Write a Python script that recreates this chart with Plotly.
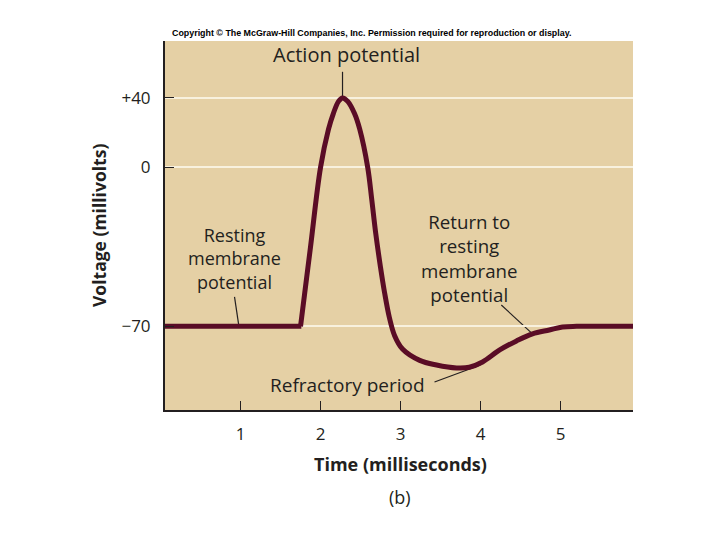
import plotly.graph_objects as go

# ---------------- data (time in ms, voltage in mV) ----------------
rest_t = [0.0, 1.76]
rest_v = [-70, -70]

spike_t = [1.75, 1.80, 1.875, 2.00, 2.10, 2.16, 2.225, 2.275, 2.34, 2.425, 2.49,
           2.59, 2.64, 2.69, 2.75, 2.80, 2.86, 2.925, 3.025, 3.24, 3.45, 3.70, 3.86,
           4.025, 4.24, 4.45, 4.65, 4.86, 5.025, 5.20, 6.0]
spike_v = [-70, -56, -35, 0, 22, 31, 38, 40, 38, 31, 22,
           0, -14, -29, -44, -55, -66, -74, -80, -85, -87, -88.3, -88,
           -85.7, -80.4, -76.4, -73.3, -71.6, -70.3, -70, -70]

x_ticks = [1, 2, 3, 4, 5]
y_ticks = [40, 0, -70]
y_tick_text = ["+40", "0", "\u221270"]

# schematic axis: the drawing stretches the negative part of the voltage scale
NEG_STRETCH = 2.27 / 1.74


def ys(v):
    return v if v >= 0 else v * NEG_STRETCH


def ymap(vals):
    return [ys(v) for v in vals]


CURVE = "#5a0c26"
INK = "#231f20"
BG = "#e5d0a5"
GRID = "#f8f1de"
FONT = "Open Sans"

fig = go.Figure()
fig.add_trace(go.Scatter(x=rest_t, y=ymap(rest_v), mode="lines",
                         line=dict(color=CURVE, width=5), hoverinfo="skip"))
fig.add_trace(go.Scatter(x=spike_t, y=ymap(spike_v), mode="lines",
                         line=dict(color=CURVE, width=5, shape="spline", smoothing=1.0),
                         hoverinfo="skip"))

# pointer lines (data coordinates: time, mV)
pointers = [
    (2.275, 40, 2.275, 55),
    (0.925, -57, 0.98, -70),
    (4.26, -60.6, 4.65, -73.3),
    (3.425, -94.5, 4.0, -87),
]
for x0, v0, x1, v1 in pointers:
    fig.add_shape(type="line", xref="x", yref="y", x0=x0, y0=ys(v0), x1=x1, y1=ys(v1),
                  line=dict(color=INK, width=1.2), layer="below")

labels = [
    (2.325, 64.7, "Action potential", 20),
    (0.925, -40.1, "Resting<br>membrane<br>potential", 18),
    (3.86, -39.9, "Return to<br>resting<br>membrane<br>potential", 18.7),
    (2.34, -95.8, "Refractory period", 19),
]
for x, v, txt, sz in labels:
    fig.add_annotation(x=x, y=ys(v), xref="x", yref="y", text=txt, showarrow=False,
                       xanchor="center", yanchor="middle",
                       font=dict(family=FONT, size=sz, color=INK), align="center")

# axis titles and captions (paper coordinates; plot box is 468 x 369 px)
fig.add_annotation(x=(400 - 165) / 468, y=-(464 - 410) / 369, xref="paper", yref="paper",
                   xanchor="center", yanchor="middle", text="<b>Time (milliseconds)</b>",
                   showarrow=False, font=dict(family=FONT, size=18, color=INK))
fig.add_annotation(x=(400 - 165) / 468, y=-(497 - 410) / 369, xref="paper", yref="paper",
                   xanchor="center", yanchor="middle", text="(b)",
                   showarrow=False, font=dict(family=FONT, size=18, color=INK))
fig.add_annotation(x=-(165 - 99) / 468, y=(410 - 226) / 369, xref="paper", yref="paper",
                   xanchor="center", yanchor="middle", text="<b>Voltage (millivolts)</b>",
                   textangle=-90, showarrow=False, font=dict(family=FONT, size=17.5, color=INK))
fig.add_annotation(x=(170 - 165) / 468, y=1.0, xref="paper", yref="paper",
                   xanchor="left", yanchor="bottom", yshift=1,
                   text="<b>Copyright \u00a9 The McGraw-Hill Companies, Inc. Permission required for reproduction or display.</b>",
                   showarrow=False, font=dict(family="Liberation Sans", size=8.9, color="#000000"))

fig.update_layout(
    width=720, height=540,
    margin=dict(l=165, r=87, t=41, b=130),
    paper_bgcolor="white", plot_bgcolor=BG,
    showlegend=False,
    xaxis=dict(range=[0.056, 5.906], tickvals=x_ticks, ticks="inside", ticklen=9,
               tickcolor=INK, tickwidth=1.3, showgrid=False, zeroline=False,
               showline=True, linecolor=INK, linewidth=2,
               tickfont=dict(family=FONT, size=17, color=INK), ticklabelstandoff=8),
    yaxis=dict(range=[-139.4, 72.7], tickvals=ymap(y_ticks), ticktext=y_tick_text,
               ticks="inside", ticklen=9, tickcolor=INK, tickwidth=1.3,
               showgrid=True, gridcolor=GRID, gridwidth=1.5, zeroline=False,
               showline=True, linecolor=INK, linewidth=2,
               tickfont=dict(family=FONT, size=17, color=INK), ticklabelstandoff=9),
)

fig.write_html("out.html", config={"displayModeBar": False},
               post_script="document.body.style.margin='0';")
